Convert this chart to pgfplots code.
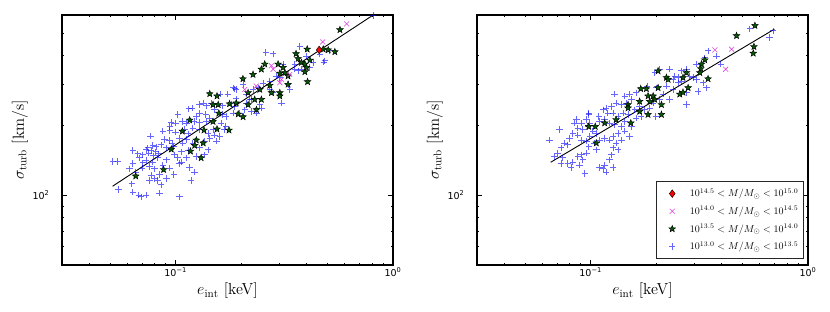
\documentclass[border=0pt]{standalone}
\usepackage{fontspec}
\usepackage{pgfplots}
\usepackage{pgfplotstable}
\pgfplotsset{compat=1.18}
\newfontfamily\dejavu{DejaVu Sans}
\definecolor{mplgreen}{rgb}{0.02,0.36,0.02}
\definecolor{mplmag}{rgb}{0.85,0.15,0.85}

\pgfdeclareplotmark{fstar}{%
  \pgfpathmoveto{\pgfpointpolar{90}{\pgfplotmarksize}}%
  \pgfpathlineto{\pgfpointpolar{126}{0.42\pgfplotmarksize}}%
  \pgfpathlineto{\pgfpointpolar{162}{\pgfplotmarksize}}%
  \pgfpathlineto{\pgfpointpolar{198}{0.42\pgfplotmarksize}}%
  \pgfpathlineto{\pgfpointpolar{234}{\pgfplotmarksize}}%
  \pgfpathlineto{\pgfpointpolar{270}{0.42\pgfplotmarksize}}%
  \pgfpathlineto{\pgfpointpolar{306}{\pgfplotmarksize}}%
  \pgfpathlineto{\pgfpointpolar{342}{0.42\pgfplotmarksize}}%
  \pgfpathlineto{\pgfpointpolar{18}{\pgfplotmarksize}}%
  \pgfpathlineto{\pgfpointpolar{54}{0.42\pgfplotmarksize}}%
  \pgfpathclose
  \pgfusepathqfillstroke
}

\pgfplotstableread{
x y
0.187 288
0.174 273
0.160 273
0.190 261
0.129 246
0.134 250
0.139 243
0.146 250
0.151 234
0.165 243
0.180 248
0.212 250
0.223 259
0.1025 223
0.115 236
0.119 238
0.129 226
0.1245 218
0.1375 223
0.1435 215
0.164 223
0.171 219
0.184 226
0.0955 206
0.100 205
0.1074 208
0.112 205
0.1215 208
0.129 206
0.1385 208
0.162 205
0.170 198
0.0874 189
0.0939 190
0.100 187
0.110 192
0.114 184
0.129 192
0.141 185
0.151 182
0.168 192
0.0765 180
0.089 174
0.0933 172
0.0965 168
0.1043 176
0.112 174
0.1435 176
0.154 171
0.1595 179
0.0636 156
0.0745 160
0.0786 164
0.0814 162
0.0859 165
0.0906 160
0.1062 154
0.114 156
0.129 160
0.141 157
0.0707 149.5
0.0754 152
0.0792 148
0.0838 151
0.0732 141
0.0682 145
0.0906 142
0.1025 145
0.1062 139
0.1245 147
0.136 149.5
0.0514 140
0.0542 140
0.0636 137
0.0702 131
0.0758 133
0.080 130
0.0874 135
0.0939 131
0.1043 137
0.116 132
0.122 126
0.0613 130
0.0655 126
0.0772 122
0.080 118
0.0844 123
0.0906 118
0.098 123
0.0758 116
0.0829 116
0.0629 112
0.0859 111
0.118 116
0.0546 106
0.0636 103
0.0677 100
0.0694 98.3
0.0732 100
0.0844 102
0.1043 98.3
0.0772 156
0.081 154
0.0732 157
0.0829 145
0.0786 139
0.0707 138
0.067 151
0.0939 198
0.098 162
0.120 168
0.108 168
0.136 171
0.120 195
0.1486 192
0.099 149.5
0.112 145
0.81 598
0.260 413
0.281 408
0.373 438
0.400 399
0.4295 374
0.480 376
0.5125 420
0.312 368
0.3535 350
0.366 344
0.379 350
0.291 327
0.3015 322
0.271 311
0.2527 304
0.2396 291
0.2272 286
0.2043 301
0.190 286
0.1837 291
0.2117 273
0.2193 259
0.2439 246
0.248 238
0.307 250
0.329 301
0.335 286
0.271 286
0.281 277
0.187 242
0.208 234
0.1972 226
0.2232 230
0.2354 226
0.4145 356
0.3535 368
0.486 380
0.461 406
}\Lblue

\pgfplotstableread{
x y
0.570 518
0.540 416
0.5035 424
0.4775 427
0.403 427
0.358 408
0.366 389
0.379 374
0.393 368
0.4145 383
0.400 356
0.393 341
0.4045 309
0.257 368
0.248 350
0.227 332
0.204 318
0.312 356
0.318 338
0.329 327
0.3015 336
0.329 301
0.271 298
0.2155 277
0.2439 286
0.3015 277
0.3015 268
0.276 277
0.231 259
0.248 259
0.190 250
0.2354 234
0.296 368
0.1435 274
0.155 268
0.1486 246
0.157 246
0.177 248
0.2155 246
0.158 226
0.194 224
0.2043 218
0.116 211
0.1486 208
0.155 193
0.176 191
0.1074 189
0.135 191
0.1245 173
0.134 168
0.1223 164
0.0955 158
0.117 155
0.131 145
0.088 129
0.0655 121
}\Lgreen

\pgfplotstableread{
x y
0.612 549
0.475 459
0.276 362
0.281 350
0.307 316
0.335 332
0.208 286
0.235 296
0.3015 306
}\Lmag

\pgfplotstableread{
x y
0.4575 424
}\Lred

\pgfplotstableread{
x y
0.182 296
0.162 277
0.151 273
0.1435 268
0.154 259
0.146 250
0.1385 246
0.129 273
0.131 250
0.1245 242
0.118 238
0.114 234
0.120 226
0.127 226
0.134 219
0.141 226
0.1486 223
0.1595 234
0.168 242
0.177 234
0.171 219
0.162 215
0.154 198
0.1435 208
0.1385 198
0.129 202
0.122 205
0.116 212
0.110 208
0.098 223
0.099 205
0.0955 212
0.0906 205
0.0859 212
0.0844 205
0.0874 195
0.0922 192
0.0972 198
0.1025 189
0.1062 185
0.099 180
0.110 173
0.116 176
0.122 173
0.127 179
0.134 185
0.1435 189
0.151 179
0.1385 173
0.131 168
0.127 160
0.134 157
0.1245 149.5
0.122 142
0.116 135
0.110 132
0.114 130
0.118 126
0.127 132
0.1062 157
0.1043 168
0.098 162
0.0955 171
0.0906 173
0.0874 182
0.0829 185
0.080 176
0.0786 165
0.0758 168
0.0732 160
0.0707 152
0.0682 147
0.0745 145
0.0786 137
0.0829 139
0.0874 147
0.0906 149.5
0.0955 152
0.0922 142
0.0939 124
0.089 135
0.0719 192
0.0647 173
0.0732 137
0.0814 132
0.098 226
0.109 219
0.692 513
0.664 480
0.540 522
0.347 420
0.379 399
0.397 368
0.335 392
0.307 368
0.2617 344
0.276 350
0.2439 327
0.2527 322
0.2396 316
0.2527 306
0.286 327
0.296 322
0.307 316
0.329 306
0.341 291
0.312 281
0.276 277
0.2396 286
0.231 259
0.208 350
0.1972 338
0.276 246
0.2232 296
0.2007 291
0.208 259
0.194 250
0.187 238
0.1994 219
0.231 350
0.2617 311
0.2155 273
}\Rblue

\pgfplotstableread{
x y
0.170 288
0.1805 288
0.168 254
0.1486 246
0.1486 238
0.168 230
0.131 212
0.153 205
0.116 205
0.105 198
0.098 198
0.1062 168
0.570 540
0.469 488
0.564 438
0.560 410
0.335 384
0.3236 368
0.321 352
0.318 338
0.347 318
0.2232 322
0.2272 316
0.2043 344
0.2043 291
0.2809 291
0.257 273
0.266 278
0.2117 246
0.1837 268
0.194 268
0.1972 259
0.187 254
0.2117 223
0.1837 223
0.266 322
0.276 338
}\Rgreen

\pgfplotstableread{
x y
0.3728 424
0.445 427
0.418 350
}\Rmag

\begin{document}
\begin{tikzpicture}
\path[use as bounding box] (0pt,0pt) rectangle (830pt,312pt);

\begin{axis}[at={(62pt,47pt)}, anchor=south west,
    xmode=log, ymode=log, scale only axis, width=331pt, height=250pt,
    xmin=0.03, xmax=1, ymin=50, ymax=600,
    xtick={0.1,1},
    xticklabels={{\dejavu 10\textsuperscript{−1}},{\dejavu 10\textsuperscript{0}}},
    minor xtick={0.04,0.05,0.06,0.07,0.08,0.09,0.2,0.3,0.4,0.5,0.6,0.7,0.8,0.9},
    ytick={100},
    yticklabels={{\dejavu 10\textsuperscript{2}}},
    minor ytick={60,70,80,90,200,300,400,500},
    axis line style={line width=1.1pt},
    major tick length=5pt, minor tick length=2.5pt,
    tick style={black, line width=0.6pt},
    tick align=inside,
    xlabel={$e_{\rm int}$ [keV]},
    ylabel={$\sigma_{\rm turb}$ [km/s]},
    label style={font=\fontsize{14.4}{16}\selectfont, scale=1.11},
    tick label style={font=\fontsize{9.5}{11}\selectfont},
    xlabel style={at={(axis description cs:0.5,-0.104)}, anchor=center},
    ylabel style={at={(axis description cs:-0.127,0.5)}, anchor=center},
    yticklabel style={xshift=-9pt},
    xticklabel style={yshift=1pt}]
  \addplot[only marks, mark=+, mark size=3.2pt, mark options={draw=blue, draw opacity=0.6, line width=1pt}] table[x=x,y=y] {\Lblue};
  \addplot[black, line width=0.9pt, no marks] coordinates {(0.0513,109.4) (0.82,604)};
  \addplot[only marks, mark=fstar, mark size=3.5pt, mark options={fill=mplgreen, draw=black, line width=0.45pt}] table[x=x,y=y] {\Lgreen};
  \addplot[only marks, mark=x, mark size=3.5pt, mark options={draw=mplmag, draw opacity=0.85, line width=0.6pt}] table[x=x,y=y] {\Lmag};
  \addplot[only marks, mark=diamond*, mark size=3.8pt, mark options={fill=red, draw=black, line width=0.45pt}] table[x=x,y=y] {\Lred};
\end{axis}

\begin{axis}[at={(477pt,47pt)}, anchor=south west,
    xmode=log, ymode=log, scale only axis, width=331pt, height=250pt,
    xmin=0.03, xmax=1, ymin=50, ymax=600,
    xtick={0.1,1},
    xticklabels={{\dejavu 10\textsuperscript{−1}},{\dejavu 10\textsuperscript{0}}},
    minor xtick={0.04,0.05,0.06,0.07,0.08,0.09,0.2,0.3,0.4,0.5,0.6,0.7,0.8,0.9},
    ytick={100},
    yticklabels={{\dejavu 10\textsuperscript{2}}},
    minor ytick={60,70,80,90,200,300,400,500},
    axis line style={line width=1.1pt},
    major tick length=5pt, minor tick length=2.5pt,
    tick style={black, line width=0.6pt},
    tick align=inside,
    xlabel={$e_{\rm int}$ [keV]},
    ylabel={$\sigma_{\rm turb}$ [km/s]},
    label style={font=\fontsize{14.4}{16}\selectfont, scale=1.11},
    tick label style={font=\fontsize{9.5}{11}\selectfont},
    xlabel style={at={(axis description cs:0.5,-0.104)}, anchor=center},
    ylabel style={at={(axis description cs:-0.127,0.5)}, anchor=center},
    yticklabel style={xshift=-9pt},
    xticklabel style={yshift=1pt},
    reverse legend,
    legend image code/.code={\path (0pt,0pt) (27pt,0pt); \draw[#1] plot coordinates {(12pt,0pt)};},
    legend style={at={(axis description cs:0.988,0.024)}, anchor=south east,
    draw=black!85, line width=1.2pt, font=\fontsize{10}{12}\selectfont,
    row sep=4pt, inner xsep=3pt, inner ysep=5pt},
    legend cell align=left]
  \addplot[only marks, mark=+, mark size=3.2pt, mark options={draw=blue, draw opacity=0.6, line width=1pt}] table[x=x,y=y] {\Rblue};
  \addlegendentry{$10^{13.0} < M/M_\odot < 10^{13.5}$}
  \addplot[black, line width=0.9pt, no marks, forget plot] coordinates {(0.0655,138.8) (0.700,521)};
  \addplot[only marks, mark=fstar, mark size=3.5pt, mark options={fill=mplgreen, draw=black, line width=0.45pt}] table[x=x,y=y] {\Rgreen};
  \addlegendentry{$10^{13.5} < M/M_\odot < 10^{14.0}$}
  \addplot[only marks, mark=x, mark size=3.5pt, mark options={draw=mplmag, draw opacity=0.85, line width=0.6pt}] table[x=x,y=y] {\Rmag};
  \addlegendentry{$10^{14.0} < M/M_\odot < 10^{14.5}$}
  \addlegendimage{only marks, mark=diamond*, mark size=3.8pt, mark options={fill=red, draw=black, line width=0.45pt}}
  \addlegendentry{$10^{14.5} < M/M_\odot < 10^{15.0}$}
\end{axis}
\end{tikzpicture}
\end{document}
